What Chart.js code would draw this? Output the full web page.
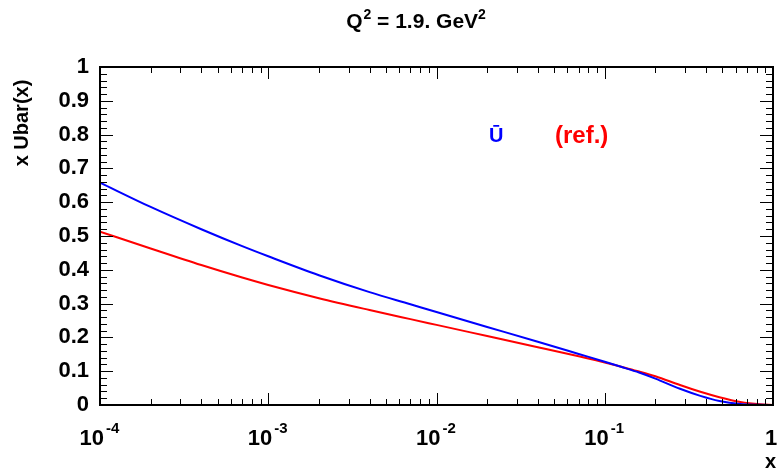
<!DOCTYPE html>
<html>
<head>
<meta charset="utf-8">
<script src="https://cdn.jsdelivr.net/npm/chart.js@4.4.0/dist/chart.umd.min.js"></script>
<style>
html,body{margin:0;padding:0;background:#fff;}
#wrap{width:778px;height:471px;position:relative;}
</style>
</head>
<body>
<div id="wrap"><canvas id="c" width="778" height="471"></canvas></div>
<script>
// ---- data ----
const xValues    = [1e-4, 2e-4, 4e-4, 7e-4, 1e-3, 2e-3, 4e-3, 7e-3, 1e-2, 2e-2, 4e-2, 7e-2, 0.1, 0.125, 0.16, 0.2, 0.28, 0.37, 0.48, 0.64, 0.84, 1.0];
const ubarValues = [0.658, 0.586, 0.520, 0.470, 0.440, 0.384, 0.334, 0.298, 0.275, 0.231, 0.187, 0.151, 0.128, 0.113, 0.096, 0.078, 0.048, 0.027, 0.012, 0.003, 0.0005, 0.0];
const refValues  = [0.513, 0.463, 0.414, 0.377, 0.355, 0.316, 0.281, 0.254, 0.237, 0.204, 0.171, 0.144, 0.126, 0.113, 0.099, 0.085, 0.059, 0.039, 0.023, 0.009, 0.002, 0.0];
const yTickLabels = ['0','0.1','0.2','0.3','0.4','0.5','0.6','0.7','0.8','0.9','1'];
const xDecadeExps = [-4, -3, -2, -1, 0];
const seriesNames = ['\u016A', '(ref.)'];
const titleParts = ['Q', '2', ' = 1.9. GeV', '2'];
const yTitle = 'x Ubar(x)';
const xTitle = 'x';

const FONT = "'Liberation Sans', Arial, Helvetica, sans-serif";

const pts = (ys) => xValues.map((x, i) => ({x: x, y: ys[i]}));

const decorPlugin = {
  id: 'decor',
  afterDraw(chart) {
    const ctx = chart.ctx;
    const xs = chart.scales.x, ys = chart.scales.y;
    const a = chart.chartArea;
    ctx.save();
    // frame
    ctx.strokeStyle = '#000';
    ctx.lineWidth = 2;
    ctx.strokeRect(a.left, a.top, a.right - a.left, a.bottom - a.top);
    ctx.lineWidth = 1;
    // y ticks (left + right, inward)
    for (let k = 0; k <= 50; k++) {
      const v = k * 0.02;
      const py = Math.round(ys.getPixelForValue(v)) + 0.5;
      const len = (k % 5 === 0) ? 13 : 7;
      ctx.beginPath();
      ctx.moveTo(a.left, py); ctx.lineTo(a.left + len, py);
      ctx.moveTo(a.right, py); ctx.lineTo(a.right - len, py);
      ctx.stroke();
    }
    // x ticks (bottom + top, inward)
    for (let e = -4; e <= 0; e++) {
      for (let m = 1; m <= 9; m++) {
        const v = m * Math.pow(10, e);
        if (v > 1.0000001) continue;
        const px = Math.round(xs.getPixelForValue(v)) + 0.5;
        const len = (m === 1) ? 12 : 6;
        ctx.beginPath();
        ctx.moveTo(px, a.bottom); ctx.lineTo(px, a.bottom - len);
        ctx.moveTo(px, a.top); ctx.lineTo(px, a.top + len);
        ctx.stroke();
      }
    }
    // x tick labels
    ctx.fillStyle = '#000';
    ctx.textBaseline = 'alphabetic';
    xDecadeExps.forEach(e => {
      const px = xs.getPixelForValue(Math.pow(10, e));
      if (e === 0) {
        ctx.font = 'bold 22px ' + FONT;
        ctx.textAlign = 'center';
        ctx.fillText('1', px - 2, 445);
      } else {
        ctx.font = 'bold 22px ' + FONT;
        ctx.textAlign = 'right';
        ctx.fillText('10', px + 4, 445);
        ctx.font = 'bold 15px ' + FONT;
        ctx.textAlign = 'left';
        ctx.fillText(String(e), px + 6, 433);
      }
    });
    // x title
    ctx.font = 'bold 20px ' + FONT;
    ctx.textAlign = 'right';
    ctx.fillText(xTitle, 776, 468);
    // y title
    ctx.save();
    ctx.translate(28, 123);
    ctx.rotate(-Math.PI / 2);
    ctx.textAlign = 'center';
    ctx.font = 'bold 20px ' + FONT;
    ctx.fillText(yTitle, 0, 0);
    ctx.restore();
    // title
    const big = 'bold 21px ' + FONT, small = 'bold 14px ' + FONT;
    const fonts = [big, small, big, small];
    const offs = [0, -9, 0, -9];
    let total = 0;
    titleParts.forEach((t, i) => { ctx.font = fonts[i]; total += ctx.measureText(t).width; });
    let cx = 415.5 - total / 2;
    ctx.textAlign = 'left';
    titleParts.forEach((t, i) => {
      ctx.font = fonts[i];
      ctx.fillText(t, cx, 28 + offs[i]);
      cx += ctx.measureText(t).width + (i === 0 ? 1 : 0);
    });
    // legend texts
    ctx.textAlign = 'left';
    ctx.font = 'bold 20px ' + FONT;
    ctx.fillStyle = chart.data.datasets[0].borderColor;
    ctx.fillText(seriesNames[0], 489, 142);
    ctx.font = 'bold 24px ' + FONT;
    ctx.fillStyle = chart.data.datasets[1].borderColor;
    ctx.fillText(seriesNames[1], 555, 143);
    ctx.restore();
  }
};

new Chart(document.getElementById('c'), {
  type: 'line',
  data: {
    datasets: [
      {label: seriesNames[0], data: pts(ubarValues), borderColor: '#0000ff', borderWidth: 2, pointRadius: 0, cubicInterpolationMode: 'monotone', fill: false},
      {label: seriesNames[1], data: pts(refValues), borderColor: '#ff0000', borderWidth: 2, pointRadius: 0, cubicInterpolationMode: 'monotone', fill: false}
    ]
  },
  options: {
    responsive: false,
    animation: false,
    events: [],
    layout: {padding: {top: 67, right: 5, left: 0, bottom: 0}},
    plugins: {legend: {display: false}, tooltip: {enabled: false}, title: {display: false}},
    scales: {
      x: {
        type: 'logarithmic', min: 1e-4, max: 1,
        grid: {display: false}, border: {display: false},
        ticks: {display: false},
        afterFit: (s) => { s.height = 66; }
      },
      y: {
        type: 'linear', min: 0, max: 1,
        grid: {display: false, drawTicks: false}, border: {display: false},
        ticks: {
          stepSize: 0.1, padding: 11, color: '#000',
          font: {family: FONT, size: 22, weight: 'bold'},
          callback: (v, i) => yTickLabels[i]
        },
        afterFit: (s) => { s.width = 100; }
      }
    }
  },
  plugins: [decorPlugin]
});
</script>
</body>
</html>
